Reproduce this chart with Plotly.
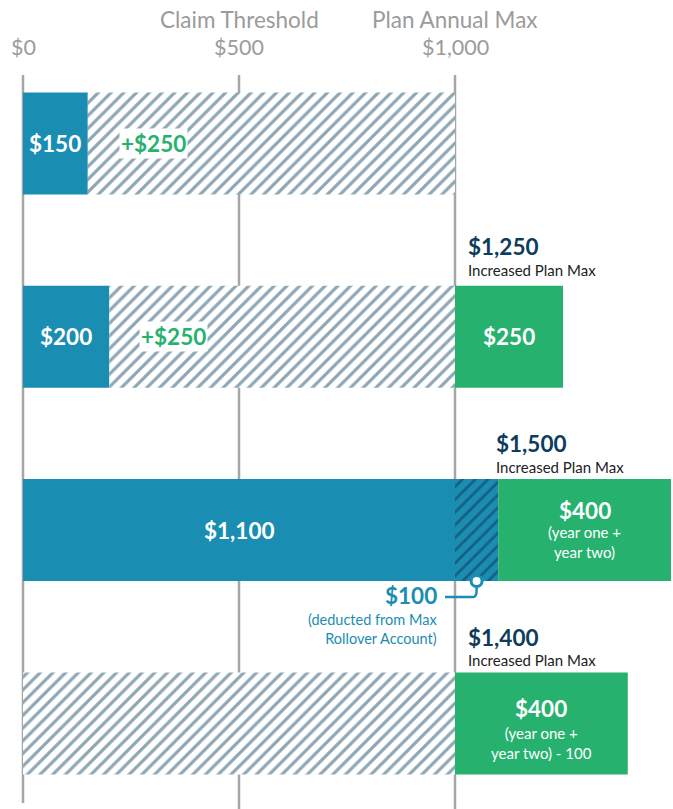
import plotly.graph_objects as go

# ---- data ----
rows = [0, 1, 2, 3]
plan_max = 1000
paid = [150, 200, 1000, 0]            # solid blue (within plan max)
unused_base = [150, 200, 1000, 0]
unused = [850, 800, 0, 1000]          # hatched, unused part of plan max
deducted_base = [1000, 1000, 1000, 1000]
deducted = [0, 0, 100, 0]             # deducted from rollover account
rollover_base = [1000, 1000, 1100, 1000]
rollover = [0, 250, 400, 400]         # green rollover
tick_vals = [0, 500, 1000]
tick_text = ["$0", "$500", "$1,000"]
top_labels = ["Claim Threshold", "Plan Annual Max"]

BLUE = "#1a8db3"
GREEN = "#26b26e"
HATCH = "#8ca6b4"
NAVY = "#0e3c5c"
GRAY = "#9b9b9b"
FONT = "Lato"

W, H = 673, 809
PX0, PXD = 23, 0.432          # pixel of $0, pixels per dollar
Y0, YS = 143.5, 193.3          # pixel of row 0 center, pixels per row
BW = 102 / YS

def dy(p):
    return (p - Y0) / YS

def dx(p):
    return (p - PX0) / PXD

fig = go.Figure()
fig.add_trace(go.Bar(y=rows, x=paid, base=[0]*4, orientation="h", width=BW,
                     marker=dict(color=BLUE, line=dict(width=0)), hoverinfo="skip"))
fig.add_trace(go.Bar(y=rows, x=unused, base=unused_base, orientation="h", width=BW,
                     marker=dict(color="white", line=dict(width=0),
                                 pattern=dict(shape="/", fgcolor=HATCH, bgcolor="white",
                                              size=9, solidity=0.35, fgopacity=1,
                                              fillmode="replace")),
                     hoverinfo="skip"))
fig.add_trace(go.Bar(y=rows, x=deducted, base=deducted_base, orientation="h", width=BW,
                     marker=dict(color=BLUE, line=dict(width=0),
                                 pattern=dict(shape="/", fgcolor="#175f80", bgcolor=BLUE,
                                              size=9, solidity=0.3, fgopacity=1,
                                              fillmode="replace")),
                     hoverinfo="skip"))
fig.add_trace(go.Bar(y=rows, x=rollover, base=rollover_base, orientation="h", width=BW,
                     marker=dict(color=GREEN, line=dict(width=0)), hoverinfo="skip"))

shapes = []
for v, bottom in zip(tick_vals, [803, 809, 809]):
    shapes.append(dict(type="line", xref="x", yref="y", x0=v, x1=v, y0=dy(75), y1=dy(bottom),
                       line=dict(color="#a6a6a6", width=2.5), layer="below"))

# connector for deducted amount
cx = deducted_base[2] + deducted[2] / 2
cy = rows[2] + BW / 2
shapes.append(dict(type="path", xref="x", yref="y",
                   path=f"M {dx(445)},{dy(597)} L {cx - 8},{dy(597)} Q {cx},{dy(597)} {cx},{dy(590)} L {cx},{cy}",
                   line=dict(color=BLUE, width=2.5)))
shapes.append(dict(type="circle", xref="x", yref="y", xsizemode="pixel", ysizemode="pixel",
                   xanchor=cx, yanchor=cy, x0=-5.5, x1=5.5, y0=-5.5, y1=5.5,
                   fillcolor="white", line=dict(color=BLUE, width=3)))

ann = []
def A(text, x, y, size, color, bold=False, xanchor="center", **kw):
    t = f"<b>{text}</b>" if bold else text
    ann.append(dict(text=t, x=x, y=y, xref="x", yref="y", showarrow=False, xanchor=xanchor,
                    yanchor="middle", font=dict(family=FONT, size=size, color=color), **kw))

for v, t in zip(tick_vals, tick_text):
    A(t, v, dy(47), 21.5, GRAY)
A(top_labels[0], 500, dy(19), 22.5, GRAY)
A(top_labels[1], 1000, dy(19), 22.5, GRAY)

BIG = 22.5
SMALL = 15
# row 0
A("$150", paid[0] / 2, rows[0], BIG, "white", True)
A("+$250", dx(119), rows[0], BIG, GREEN, True, xanchor="left", bgcolor="white", borderpad=1)
# row 1
A("$200", paid[1] / 2, rows[1], BIG, "white", True)
A("+$250", dx(139), rows[1], BIG, GREEN, True, xanchor="left", bgcolor="white", borderpad=1)
A("$250", rollover_base[1] + rollover[1] / 2, rows[1], BIG, "white", True)
A("$1,250", dx(466), dy(246), BIG, NAVY, True, xanchor="left")
A("Increased Plan Max", dx(466), dy(270), SMALL, "#222222", xanchor="left")
# row 2
A("$1,100", plan_max / 2, rows[2], BIG, "white", True)
A("$400", rollover_base[2] + rollover[2] / 2, dy(510), BIG, "white", True)
A("(year one +<br>year two)", rollover_base[2] + rollover[2] / 2, dy(542), SMALL, "white")
A("$1,500", dx(494), dy(443), BIG, NAVY, True, xanchor="left")
A("Increased Plan Max", dx(494), dy(467), SMALL, "#222222", xanchor="left")
A("$100", dx(439), dy(595), BIG, BLUE, True, xanchor="right")
ann.append(dict(text="(deducted from Max<br>Rollover Account)", x=dx(439), y=dy(629), xref="x", yref="y",
                showarrow=False, xanchor="right", yanchor="middle", align="right",
                font=dict(family=FONT, size=14.5, color=BLUE)))
# row 3
A("$400", rollover_base[3] + rollover[3] / 2, dy(708), BIG, "white", True)
A("(year one +<br>year two) - 100", rollover_base[3] + rollover[3] / 2, dy(743), SMALL, "white")
A("$1,400", dx(466), dy(637), BIG, NAVY, True, xanchor="left")
A("Increased Plan Max", dx(466), dy(660), SMALL, "#222222", xanchor="left")

fig.update_layout(
    width=W, height=H, margin=dict(l=0, r=0, t=0, b=0),
    paper_bgcolor="white", plot_bgcolor="white",
    barmode="overlay", showlegend=False,
    xaxis=dict(range=[dx(0), dx(W)], visible=False, fixedrange=True),
    yaxis=dict(range=[dy(H), dy(0)], visible=False, fixedrange=True),
    shapes=shapes, annotations=ann,
)

fig.write_html("out.html", config={"displayModeBar": False})
